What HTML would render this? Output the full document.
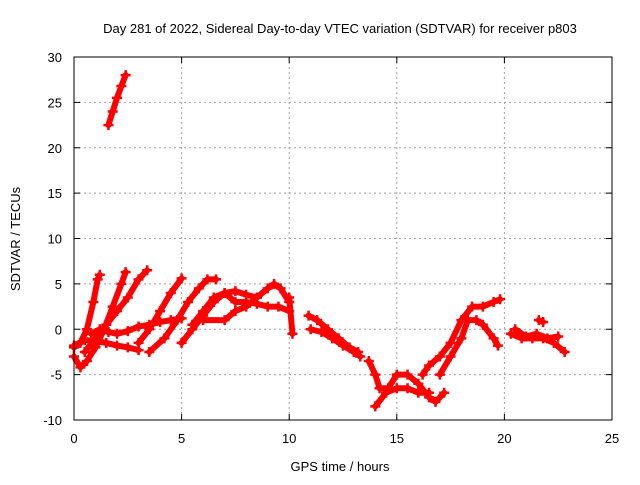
<!DOCTYPE html>
<html><head><meta charset="utf-8"><style>
body{margin:0;background:#fff}
text{font-family:"Liberation Sans",sans-serif;font-size:13px;fill:#000}
</style></head><body>
<svg id="chart" width="640" height="480">
<rect width="640" height="480" fill="#fff"/>
<text x="340" y="33" text-anchor="middle">Day 281 of 2022, Sidereal Day-to-day VTEC variation (SDTVAR) for receiver p803</text>
<g id="grid"></g><g id="marks"></g><g id="axes"></g>
<text x="340" y="471" text-anchor="middle">GPS time / hours</text>
<text transform="translate(20,239) rotate(-90)" text-anchor="middle">SDTVAR / TECUs</text>
</svg>
<script>
const xTicks=[0,5,10,15,20,25];
const yTicks=[-10,-5,0,5,10,15,20,25,30];
const trackHours=[
[1.6,1.8,2.0,2.2,2.4],
[0.0,0.3,0.6,1.0,1.4,1.8,2.2,2.4],
[0.0,0.3,0.6,0.9,1.1,1.2],
[0.5,1.0,1.5,2.0,2.5,3.0,3.4],
[0.0,0.5,1.0,1.5,2.0,2.5,3.0],
[0.8,1.2,1.6,2.0,2.5,3.0,3.5,4.0,4.5,5.0],
[3.0,3.5,4.0,4.5,5.0],
[3.5,4.2,4.8,5.3,5.8,6.2,6.6],
[5.0,5.5,6.0,6.5,7.0,7.5,8.0,8.5],
[5.5,6.0,6.5,7.0,7.5,8.0,8.5,9.0,9.5,10.0],
[6.0,7.0,7.5,8.0,8.5,9.0,9.3,9.6,10.0],
[10.0,10.15],
[10.9,11.3,11.8,12.3,12.8,13.2],
[11.0,11.5,12.0,12.5,13.0,13.3],
[13.7,14.0,14.2,14.6,15.0,15.5,16.0,16.5,16.8,17.2],
[14.0,14.5,15.0,15.5,16.0,16.5],
[16.2,16.5,17.0,17.5,18.0,18.5,19.0,19.5,19.8],
[17.0,17.5,18.0,18.3,18.7,19.0,19.5,19.7],
[20.3,20.8,21.3,21.8,22.3,22.8],
[20.5,21.0,21.5,22.0,22.5],
[21.6,21.8]
];
const trackValues=[
[22.5,24,25.5,26.8,28],
[-3,-4.2,-3.5,-2,0,2.5,5,6.3],
[-2,-1.5,0,3,5.5,6],
[-2.5,-1,0.5,2,3.5,5.5,6.5],
[-1.8,-1.2,-1.3,-1.5,-1.8,-2,-2.3],
[-0.5,0,-0.3,-0.5,-0.2,0.3,0.5,0.8,1,1.2],
[-1.5,0,2,4,5.6],
[-2.5,-1,1,3,4.5,5.5,5.5],
[-1.5,0,1.5,3,4,4.2,3.8,3.5],
[0.5,2,3.5,4,3,3,2.8,2.5,2.5,2],
[1,1,2,2.5,3.5,4.5,5,4.5,3],
[3.5,-0.5],
[1.5,1,0,-1,-2,-2.5],
[0,-0.3,-1,-1.8,-2.5,-3],
[-3.5,-5,-6.5,-6.5,-5,-5,-6,-7.5,-8,-7],
[-8.5,-7,-6.5,-6.5,-7,-7],
[-5,-4,-3,-1.5,1,2.5,2.5,3,3.3],
[-5,-3,-1,1,1,0.5,-1,-1.8],
[-0.5,-1,-1,-1,-1.5,-2.5],
[0,-0.8,-0.5,-1,-0.8],
[1,0.8]
];
const X=h=>74+(h/25)*538, Y=v=>57+(30-v)*(363/40);
const NS='http://www.w3.org/2000/svg';
const g=document.getElementById('grid'),m=document.getElementById('marks'),a=document.getElementById('axes');
function mk(p,tag,at){const e=document.createElementNS(NS,tag);for(const k in at)e.setAttribute(k,at[k]);p.appendChild(e);return e;}
xTicks.forEach(t=>{
 if(t>0&&t<25){const l=mk(g,'line',{x1:X(t),x2:X(t),y1:57,y2:420,stroke:'#a0a0a0','stroke-dasharray':'2,3'});
 
 }
 const tx=mk(a,'text',{x:X(t),y:443,'text-anchor':'middle'});tx.textContent=t;
 
 
 mk(a,'line',{x1:X(t),x2:X(t),y1:420,y2:414,stroke:'#000'});mk(a,'line',{x1:X(t),x2:X(t),y1:57,y2:63,stroke:'#000'});
});
yTicks.forEach(t=>{
 if(t>-10&&t<30){const l=mk(g,'line',{x1:74,x2:612,y1:Y(t),y2:Y(t),stroke:'#a0a0a0','stroke-dasharray':'2,3'});
 
 }
 const tx=mk(a,'text',{x:62,y:Y(t)+5,'text-anchor':'end'});tx.textContent=t;
 
 
 mk(a,'line',{x1:74,x2:80,y1:Y(t),y2:Y(t),stroke:'#000'});mk(a,'line',{x1:612,x2:606,y1:Y(t),y2:Y(t),stroke:'#000'});
});
const fr=mk(a,'rect',{x:74,y:57,width:538,height:363,fill:'none',stroke:'#000'});


trackHours.forEach((hs,i)=>{
 const vs=trackValues[i];
 const pl=mk(m,'polyline',{points:hs.map((h,j)=>X(h)+','+Y(vs[j])).join(' '),fill:'none',stroke:'#f00','stroke-width':6,'stroke-linecap':'round','stroke-linejoin':'round'});
 
 
 hs.forEach((h,j)=>{
  const p=mk(m,'path',{d:`M${X(h)-5},${Y(vs[j])}h10M${X(h)},${Y(vs[j])-5}v10`,stroke:'#f00','stroke-width':2.5});
  
  
 });
});
</script>
</body></html>
